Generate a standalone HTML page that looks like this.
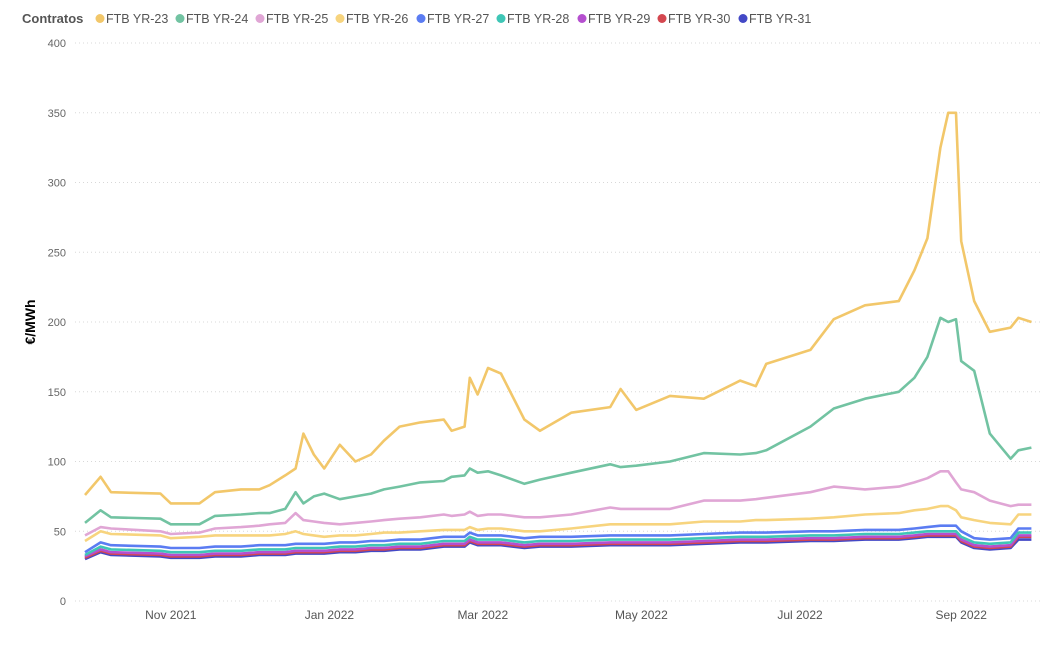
<!DOCTYPE html>
<html><head><meta charset="utf-8">
<style>
body{margin:0;background:#fff;font-family:"Liberation Sans",sans-serif;}
svg text{font-family:"Liberation Sans",sans-serif;}
</style></head>
<body>
<svg id="chart" width="1061" height="647" xmlns="http://www.w3.org/2000/svg">
<g id="legend"></g>
<g id="grid"></g>
<g id="yaxis"></g>
<g id="xaxis"></g>
<g id="lines"></g>
<text transform="translate(35,322) rotate(-90)" text-anchor="middle" font-size="14" font-weight="bold" fill="#000">€/MWh</text>
</svg>
<script>
const yTicks = [0,50,100,150,200,250,300,350,400];
const xTickLabels = ["Nov 2021","Jan 2022","Mar 2022","May 2022","Jul 2022","Sep 2022"];
const xTickDays = [33,94,153,214,275,337];
const days = [0,6,10,29,33,44,50,60,67,71,77,81,84,88,92,98,104,110,115,121,129,138,141,146,148,151,155,160,169,175,187,202,206,212,225,238,252,258,262,279,288,300,313,319,324,329,332,335,337,342,348,356,359,364];
const seriesNames = ["FTB YR-23","FTB YR-24","FTB YR-25","FTB YR-26","FTB YR-27","FTB YR-28","FTB YR-29","FTB YR-30","FTB YR-31"];
const seriesColors = ["#F2C76A","#72C3A2","#E0A6D5","#F7D47E","#5B7CF2","#3FC6B6","#B54FCF","#D4474F","#4348C6"];
const yr23 = [76,89,78,77,70,70,78,80,80,83,90,95,120,105,95,112,100,105,115,125,128,130,122,125,160,148,167,163,130,122,135,139,152,137,147,145,158,154,170,180,202,212,215,237,260,325,350,350,258,215,193,196,203,200];
const yr24 = [56,65,60,59,55,55,61,62,63,63,66,78,70,75,77,73,75,77,80,82,85,86,89,90,95,92,93,90,84,87,92,98,96,97,100,106,105,106,108,125,138,145,150,160,175,203,200,202,172,165,120,102,108,110];
const yr25 = [47,53,52,50,48,49,52,53,54,55,56,63,58,57,56,55,56,57,58,59,60,62,61,62,64,61,62,62,60,60,62,67,66,66,66,72,72,73,74,78,82,80,82,85,88,93,93,85,80,78,72,68,69,69];
const yr26 = [43,50,48,47,45,46,47,47,47,47,48,50,48,47,46,47,47,48,49,49,50,51,51,51,53,51,52,52,50,50,52,55,55,55,55,57,57,58,58,59,60,62,63,65,66,68,68,65,60,58,56,55,62,62];
const yr27 = [35,42,40,39,38,38,39,39,40,40,40,41,41,41,41,42,42,43,43,44,44,46,46,46,49,47,47,47,45,46,46,47,47,47,47,48,49,49,49,50,50,51,51,52,53,54,54,54,50,45,44,45,52,52];
const yr28 = [33,39,37,36,35,35,36,36,37,37,37,38,38,38,38,39,39,40,40,41,41,43,43,43,46,44,44,44,42,43,43,44,44,44,44,45,46,46,46,47,47,48,48,49,50,50,50,50,46,42,41,42,49,49];
const yr29 = [32,37,35,34,33,33,34,34,35,35,35,36,36,36,36,37,37,38,38,39,39,41,41,41,44,42,42,42,40,41,41,42,42,42,42,43,44,44,44,45,45,46,46,47,48,48,48,48,44,40,39,40,47,47];
const yr30 = [31,36,34,33,32,32,33,33,34,34,34,35,35,35,35,36,36,37,37,38,38,40,40,40,43,41,41,41,39,40,40,41,41,41,41,42,43,43,43,44,44,45,45,46,47,47,47,47,43,39,38,39,46,46];
const yr31 = [30,35,33,32,31,31,32,32,33,33,33,34,34,34,34,35,35,36,36,37,37,39,39,39,42,40,40,40,38,39,39,40,40,40,40,41,42,42,42,43,43,44,44,45,46,46,46,46,42,38,37,38,44,44];
const seriesValues = [yr23,yr24,yr25,yr26,yr27,yr28,yr29,yr30,yr31];

const NS="http://www.w3.org/2000/svg";
const x0=85, xPerDay=2.6, yBase=601, yPerUnit=558/400;
function xs(d){return x0+d*xPerDay;}
function ys(v){return yBase-v*yPerUnit;}
function mk(tag,attrs,parent){const e=document.createElementNS(NS,tag);for(const k in attrs)e.setAttribute(k,attrs[k]);parent.appendChild(e);return e;}

const grid=document.getElementById('grid'), ya=document.getElementById('yaxis'), xa=document.getElementById('xaxis');
yTicks.forEach(t=>{
  const l=mk('line',{x1:75,x2:1040,y1:ys(t),y2:ys(t),stroke:'#d8d8d8','stroke-dasharray':'1,3','stroke-width':1},grid);
  
  
  const tx=mk('text',{x:66,y:ys(t)+4,'text-anchor':'end','font-size':11,fill:'#666'},ya);
  tx.textContent=t;
  
  
});
xTickLabels.forEach((lab,i)=>{
  const tx=mk('text',{x:xs(xTickDays[i]),y:619,'text-anchor':'middle','font-size':12,fill:'#555'},xa);
  tx.textContent=lab;
  
  
});
const lines=document.getElementById('lines');
for(let s=seriesValues.length-1;s>=0;s--){
  const pts=seriesValues[s].map((v,i)=>xs(days[i]).toFixed(1)+','+ys(v).toFixed(1)).join(' ');
  const p=mk('polyline',{points:pts,fill:'none',stroke:seriesColors[s],'stroke-width':2.6,'stroke-linejoin':'round'},lines);
  
  
}
const lg=document.getElementById('legend');
const lt=mk('text',{x:22,y:23,'font-size':13,'font-weight':'bold',fill:'#555'},lg);
lt.textContent='Contratos';


const legX=[100,180,260,340,421,501,582,662,743];
seriesNames.forEach((n,i)=>{
  const g=mk('g',{},lg);
  
  
  mk('circle',{cx:legX[i],cy:18.5,r:4.5,fill:seriesColors[i]},g);
  const t=mk('text',{x:legX[i]+6,y:23,'font-size':12.5,fill:'#555'},g);
  t.textContent=n;
});
</script>
</body></html>
